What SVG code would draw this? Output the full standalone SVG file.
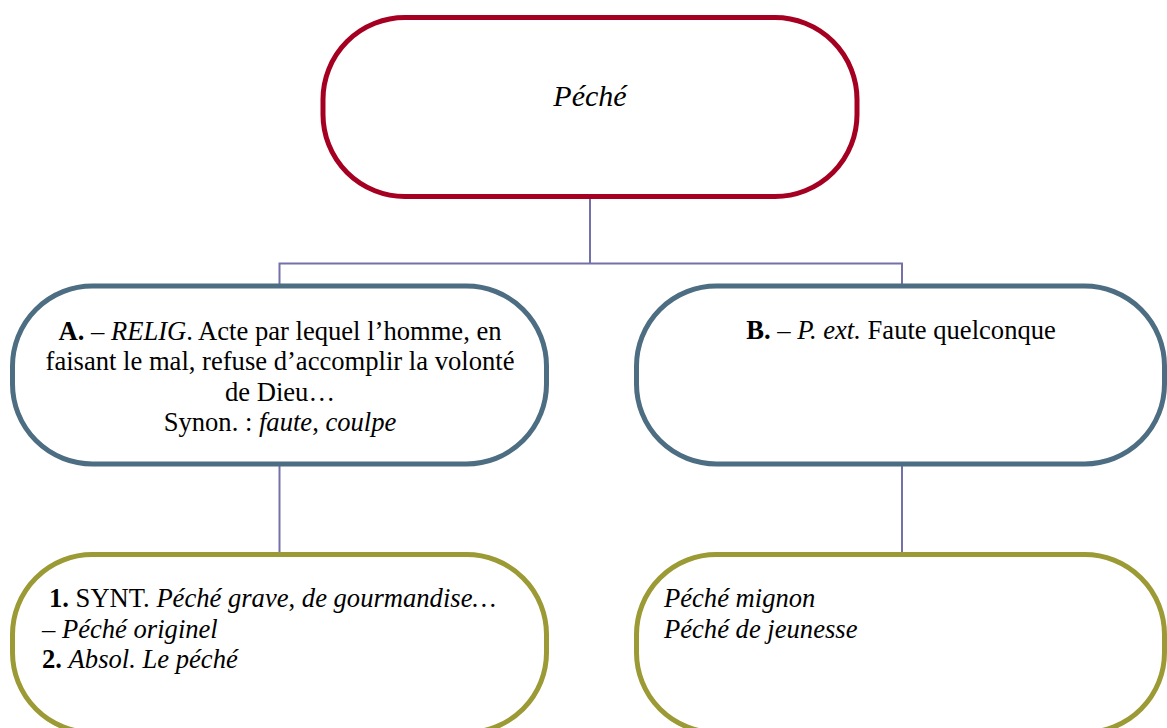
<svg xmlns="http://www.w3.org/2000/svg" width="1167" height="728" viewBox="0 0 1167 728">
<style>
text{font-family:"Liberation Serif","Times New Roman",serif;font-size:26.6px;fill:#000}
.i{font-style:italic}
.b{font-weight:bold}
.node{fill:#fff;stroke-width:5}
.red{stroke:#A50021}
.slate{stroke:#4D6D82}
.olive{stroke:#9B9A35}
.conn{fill:none;stroke:#7471A8;stroke-width:2}
</style>
<rect width="1167" height="728" fill="#fff"/>
<g id="connectors">
<path class="conn" d="M590 196 V263.5 M279.5 287 V263.5 H902 V287"/>
<path class="conn" d="M279.5 464 V555"/>
<path class="conn" d="M902 464 V555"/>
</g>
<g id="n-peche">
<rect class="node red" x="323" y="17.5" width="534" height="179" rx="82" ry="82"/>
<text class="i" x="590" y="106" text-anchor="middle" style="font-size:30px">Péché</text>
</g>
<g id="n-a">
<rect class="node slate" x="12.5" y="286" width="534" height="178" rx="80" ry="80"/>
<text x="280" y="340" text-anchor="middle"><tspan class="b">A.</tspan> – <tspan class="i">RELIG</tspan>. Acte par lequel l’homme, en</text>
<text x="280" y="370" text-anchor="middle">faisant le mal, refuse d’accomplir la volonté</text>
<text x="280" y="400.5" text-anchor="middle">de Dieu…</text>
<text x="280" y="431" text-anchor="middle">Synon. : <tspan class="i">faute</tspan>, <tspan class="i">coulpe</tspan></text>
</g>
<g id="n-b">
<rect class="node slate" x="636.5" y="286" width="528" height="178" rx="80" ry="80"/>
<text x="901" y="339" text-anchor="middle"><tspan class="b">B.</tspan> – <tspan class="i">P. ext.</tspan> Faute quelconque</text>
</g>
<g id="n-a1">
<rect class="node olive" x="12.5" y="554.5" width="534" height="178" rx="80" ry="80"/>
<text x="49" y="607"><tspan class="b">1.</tspan> SYNT. <tspan class="i">Péché grave</tspan>, <tspan class="i">de gourmandise…</tspan></text>
<text x="42" y="637.5">– <tspan class="i">Péché originel</tspan></text>
<text x="42" y="668"><tspan class="b">2.</tspan> <tspan class="i">Absol. Le péché</tspan></text>
</g>
<g id="n-b1">
<rect class="node olive" x="636.5" y="554.5" width="528" height="178" rx="80" ry="80"/>
<text class="i" x="664" y="607">Péché mignon</text>
<text class="i" x="664" y="637.5">Péché de jeunesse</text>
</g>
</svg>
